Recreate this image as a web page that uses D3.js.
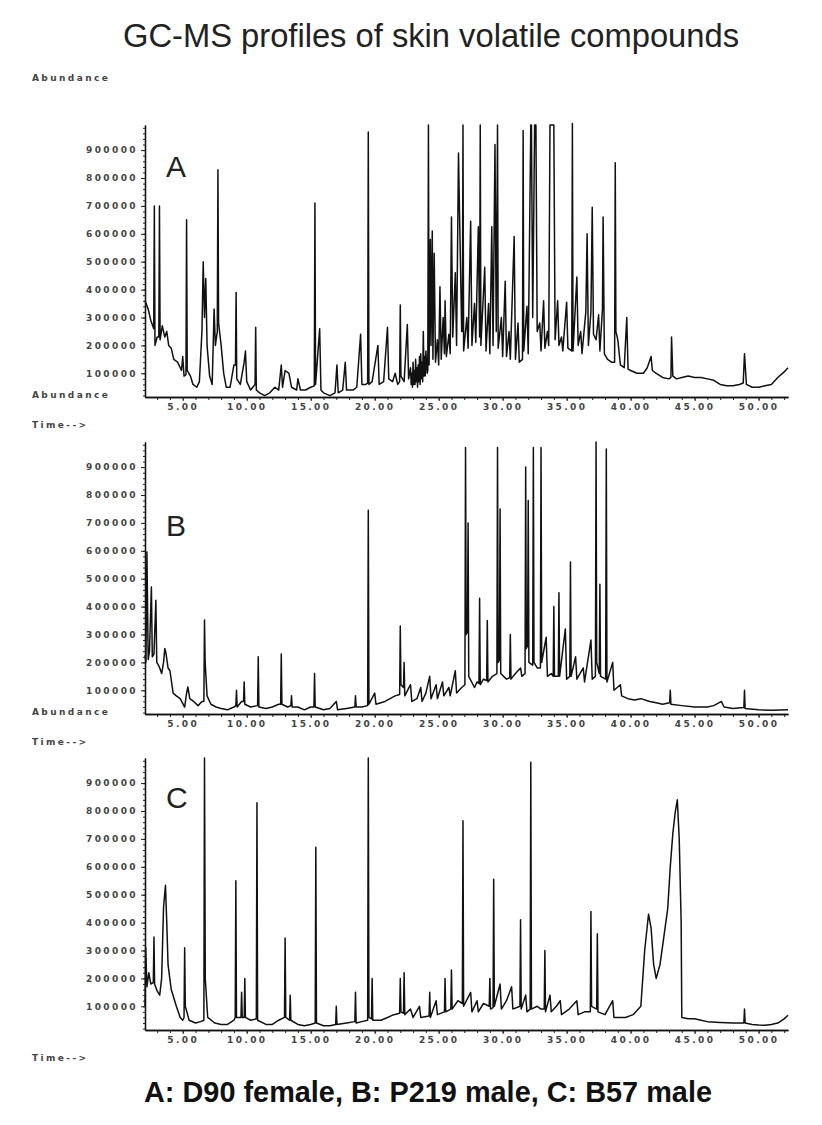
<!DOCTYPE html>
<html>
<head>
<meta charset="utf-8">
<style>
  body { margin: 0; background: #fff; }
  svg text { font-family: "Liberation Sans", Arial, sans-serif; fill: #222; }
  .small { font-family: "DejaVu Sans", sans-serif !important; font-size: 9px; font-weight: bold; letter-spacing: 2.4px; fill: #444; }
</style>
</head>
<body>
<svg id="chart" width="822" height="1125"></svg>
<script src="https://d3js.org/d3.v7.min.js"></script>
<script>

// chromatogram traces: [retention time (min), abundance / 1000]
const traceA = [
  [2.05,360],[2.3,330],[2.5,290],[2.73,260],[2.78,700],[2.83,200],[3.0,230],[3.13,230],[3.18,700],[3.23,220],
  [3.4,270],[3.6,230],[3.75,250],[3.9,200],[4.1,190],[4.3,150],[4.6,140],[4.9,110],[5.0,160],[5.1,90],
  [5.25,95],[5.3,650],[5.35,110],[5.6,90],[5.8,60],[6.1,50],[6.3,70],[6.5,250],[6.6,500],[6.7,300],[6.8,440],
  [6.9,200],[7.1,90],[7.3,60],[7.45,330],[7.55,200],[7.7,250],[7.75,830],[7.8,280],[8.0,200],[8.2,100],
  [8.4,50],[8.7,50],[9.0,130],[9.12,130],[9.17,390],[9.22,80],[9.5,60],[9.8,140],[9.9,180],[10.0,70],[10.3,40],
  [10.65,60],[10.7,265],[10.75,40],[11.0,30],[11.4,20],[11.8,30],[12.2,50],[12.5,40],[12.7,130],[12.8,50],
  [13.0,110],[13.3,100],[13.5,50],[13.9,40],[14.0,80],[14.2,40],[14.6,40],[15.0,50],[15.28,55],[15.33,710],
  [15.38,60],[15.7,260],[15.8,40],[16.0,30],[16.5,20],[16.9,30],[17.05,130],[17.15,30],[17.5,40],
  [17.7,140],[17.8,40],[18.3,40],[18.6,50],[18.9,240],[19.0,60],[19.3,60],[19.45,65],[19.5,965],[19.55,60],
  [19.8,70],[20.25,200],[20.35,60],[20.7,70],[21.0,265],[21.1,80],[21.4,70],[21.6,100],[21.8,60],
  [21.95,70],[22.0,345],[22.05,90],[22.3,70],[22.55,275],[22.65,80],[22.8,120],[22.85,60],[22.9,100],[22.95,50],
  [23.0,140],[23.05,60],[23.1,110],[23.15,60],[23.2,150],[23.25,70],[23.3,120],[23.35,50],[23.4,130],
  [23.45,70],[23.5,160],[23.55,60],[23.6,170],[23.65,80],[23.7,140],[23.75,70],[23.8,250],[23.85,90],
  [23.9,160],[23.95,90],[24.0,180],[24.1,100],[24.15,110],
  [24.2,990],[24.25,130],[24.35,580],[24.4,200],[24.5,610],[24.55,150],[24.65,530],[24.75,140],
  [24.9,220],[25.0,130],[25.1,410],[25.2,150],[25.35,300],[25.45,170],[25.5,360],[25.6,160],
  [25.8,240],[25.9,170],[26.0,660],[26.1,230],[26.3,460],[26.4,200],[26.55,890],[26.6,750],
  [26.7,500],[26.8,250],[26.85,250],[26.9,990],[26.95,180],[27.2,300],[27.3,190],[27.5,645],[27.6,200],
  [27.8,350],[27.9,210],[28.1,625],[28.2,230],[28.25,990],[28.3,200],[28.6,480],[28.7,180],
  [28.9,350],[29.0,170],[29.15,625],[29.25,200],[29.4,920],[29.5,250],[29.6,990],[29.65,190],
  [29.9,300],[30.0,160],[30.2,430],[30.3,160],[30.5,250],[30.6,150],[30.9,590],[31.0,150],
  [31.2,280],[31.3,140],[31.55,150],[31.6,970],[31.65,180],[31.9,340],[32.0,170],[32.2,990],[32.25,990],
  [32.35,300],[32.5,990],[32.6,990],[32.7,250],[32.9,280],[33.0,180],[33.2,360],[33.3,190],
  [33.5,250],[33.6,200],[33.7,990],[33.8,990],[33.9,990],[34.0,990],[34.1,220],[34.3,360],
  [34.4,200],[34.6,230],[34.7,180],[35.0,355],[35.1,190],[35.4,180],[35.45,995],[35.5,180],[35.8,445],
  [35.9,200],[36.1,250],[36.2,170],[36.5,320],[36.6,600],[36.7,200],[36.9,320],[37.0,695],
  [37.1,240],[37.3,220],[37.5,310],[37.6,180],[37.8,330],[37.85,660],[37.95,170],[38.2,150],
  [38.5,140],[38.75,140],[38.8,855],[38.85,250],[39.0,220],[39.2,130],[39.5,120],[39.7,300],[39.8,115],
  [40.0,110],[40.5,100],[41.0,100],[41.3,120],[41.6,160],[41.7,110],[42.0,100],[42.5,85],
  [43.0,80],[43.15,85],[43.2,230],[43.3,90],[43.6,80],[44.0,85],[44.5,90],[45.0,85],[45.5,85],[46.0,80],
  [46.5,75],[47.0,60],[47.5,55],[48.0,55],[48.5,60],[48.8,65],[48.9,170],[49.05,60],[49.5,50],[50.0,50],
  [50.5,55],[51.0,60],[51.5,85],[52.0,105],[52.3,120]
]

const traceB = [
  [2.05,226],[2.12,200],[2.2,596],[2.3,210],[2.4,240],[2.55,470],[2.62,220],[2.75,230],[2.9,423],
  [2.97,200],[3.1,190],[3.2,180],[3.35,160],[3.5,200],[3.6,250],[3.7,230],[3.85,180],[4.0,170],
  [4.25,90],[4.5,80],[4.8,70],[5.15,40],[5.3,90],[5.4,112],[5.55,70],[5.85,60],[6.2,45],[6.5,60],
  [6.65,60],[6.7,352],[6.75,200],[6.9,80],[7.2,50],[7.6,40],[8.0,35],[8.5,30],[9.0,40],[9.15,45],[9.2,100],[9.25,40],
  [9.6,60],[9.75,60],[9.8,130],[9.85,50],[10.3,40],[10.85,45],[10.9,220],[10.95,40],[11.5,35],[12.0,40],[12.5,50],
  [12.65,50],[12.7,230],[12.75,50],[13.2,40],[13.45,45],[13.5,80],[13.55,40],[14.0,40],[14.5,30],[15.0,40],[15.25,40],[15.3,160],
  [15.35,40],[16.0,30],[16.5,35],[17.0,60],[17.1,30],[17.8,35],[18.45,40],[18.5,80],[18.55,40],[19.0,40],
  [19.45,45],[19.5,745],[19.55,50],[20.0,90],[20.1,50],[20.8,60],[21.2,70],[21.6,80],[21.95,85],[22.0,330],[22.05,120],
  [22.25,110],[22.3,200],[22.35,80],[22.8,120],[22.9,60],[23.3,70],[23.6,110],[23.7,60],[24.0,90],[24.3,150],
  [24.4,70],[24.8,120],[24.9,70],[25.3,130],[25.4,80],[25.8,110],[25.9,80],[26.3,170],[26.4,90],
  [26.8,110],[27.05,120],[27.1,970],[27.15,300],[27.25,310],[27.3,700],[27.35,150],[27.8,110],[28.0,130],[28.15,125],[28.2,430],
  [28.25,120],[28.5,140],[28.75,135],[28.8,350],[28.85,130],[29.2,150],[29.55,160],[29.6,970],[29.65,200],[29.75,210],[29.8,750],
  [29.85,160],[30.3,140],[30.55,145],[30.6,300],[30.65,140],[31.0,160],[31.4,180],[31.5,150],[31.75,160],[31.8,900],
  [31.85,250],[31.95,260],[32.0,780],[32.05,200],[32.35,190],[32.4,970],[32.45,200],[32.7,180],[32.95,180],[33.0,970],[33.05,200],
  [33.4,290],[33.5,150],[33.8,160],[33.95,150],[34.0,400],[34.05,150],[34.35,150],[34.4,450],[34.45,150],[34.9,320],
  [35.0,140],[35.25,150],[35.3,560],[35.35,150],[35.7,220],[35.8,140],[36.3,180],[36.4,130],[36.9,280],
  [37.0,140],[37.25,150],[37.3,990],[37.35,200],[37.55,160],[37.6,480],[37.65,150],[38.05,140],[38.1,965],[38.15,130],[38.6,200],
  [38.7,100],[39.2,120],[39.3,80],[39.8,70],[40.3,65],[40.8,70],[41.5,60],[42.0,55],[42.5,50],
  [43.05,55],[43.1,100],[43.15,50],[44.0,45],[45.0,40],[46.0,40],[46.5,45],[47.1,60],[47.3,40],[48.0,35],
  [48.85,38],[48.9,100],[48.95,35],[50.0,30],[51.0,28],[52.3,30]
]

const traceC = [
  [2.05,100],[2.1,312],[2.2,170],[2.35,220],[2.5,180],[2.7,185],[2.75,348],[2.8,180],[3.0,155],[3.2,140],
  [3.35,200],[3.5,456],[3.65,534],[3.75,400],[3.85,250],[4.1,160],[4.5,100],[4.8,60],[5.0,50],
  [5.1,60],[5.15,310],[5.2,100],[5.5,50],[6.0,40],[6.4,45],[6.65,50],[6.7,990],[6.76,200],[6.95,60],[7.5,40],[8.0,35],
  [8.5,35],[9.0,50],[9.1,60],[9.15,550],[9.2,60],[9.55,60],[9.6,150],[9.65,60],[9.8,60],[9.85,200],[9.9,60],[10.3,50],
  [10.75,55],[10.8,830],[10.85,50],[11.5,35],[12.0,35],[12.5,50],[12.95,60],[13.0,345],[13.05,60],[13.35,50],[13.4,140],[13.45,50],
  [14.0,35],[14.5,30],[15.0,35],[15.35,40],[15.4,670],[15.45,40],[16.0,30],[16.5,30],[16.95,35],[17.0,100],[17.05,35],
  [17.8,40],[18.45,45],[18.5,150],[18.55,40],[19.0,45],[19.45,50],[19.5,990],[19.55,60],[19.75,55],[19.8,200],[19.85,50],[20.5,50],
  [21.0,60],[21.5,70],[21.95,75],[22.0,200],[22.05,80],[22.25,75],[22.3,220],[22.35,70],[22.8,90],[23.0,60],[23.5,100],
  [23.6,60],[24.25,65],[24.3,150],[24.35,60],[24.8,120],[24.9,70],[25.45,80],[25.5,200],[25.55,80],[25.95,90],[26.0,230],[26.05,90],
  [26.5,120],[26.85,110],[26.9,765],[26.95,100],[27.5,150],[27.6,80],[28.0,120],[28.1,80],[28.5,110],[28.95,100],[29.0,200],
  [29.05,90],[29.25,95],[29.3,555],[29.35,100],[29.8,180],[29.9,90],[30.3,120],[30.7,170],[30.8,90],[31.35,100],[31.4,410],
  [31.45,90],[31.8,140],[31.9,80],[32.15,90],[32.2,975],[32.25,90],[32.7,100],[33.0,90],[33.25,90],[33.3,300],[33.35,80],
  [33.7,140],[33.8,80],[34.2,100],[34.5,120],[34.6,70],[35.2,90],[35.8,120],[35.9,70],[36.4,80],
  [36.85,80],[36.9,440],[36.95,100],[37.35,90],[37.4,360],[37.45,80],[38.0,70],[38.6,120],[38.7,60],[39.2,60],[39.6,60],
  [40.2,70],[40.8,100],[41.1,300],[41.4,430],[41.6,380],[41.8,250],[42.0,200],[42.3,250],
  [42.6,350],[42.9,450],[43.1,600],[43.3,720],[43.5,800],[43.65,840],[43.8,700],[43.95,400],
  [44.0,60],[44.5,55],[45.0,55],[45.5,50],[46.0,45],[47.0,42],[48.0,40],[48.85,40],[48.9,90],
  [48.95,40],[49.5,35],[50.0,33],[50.5,32],[51.0,35],[51.5,40],[52.0,55],[52.3,68]
]

const panelLetters = ['A', 'B', 'C']
const traces = [traceA, traceB, traceC]
const timeLabels = [5, 10, 15, 20, 25, 30, 35, 40, 45, 50]
const abundanceLabels = [100000, 200000, 300000, 400000, 500000, 600000, 700000, 800000, 900000]
const titleText = 'GC-MS profiles of skin volatile compounds'
const captionText = 'A: D90 female, B: P219 male, C: B57 male'

const svg = d3.select('#chart')

// panel frame
const bottoms = [397, 714, 1030], panelH = 272
const x = d3.scaleLinear().domain([2.05, 52.3]).range([145, 788])

svg.append('text')
  .attr('x', 431).attr('y', 47)
  .attr('text-anchor', 'middle')
  .attr('textLength', 616).attr('lengthAdjust', 'spacingAndGlyphs')
  .style('font-size', '33px')
  .text(titleText)

svg.append('text')
  .attr('x', 428).attr('y', 1102)
  .attr('text-anchor', 'middle')
  .attr('textLength', 568).attr('lengthAdjust', 'spacingAndGlyphs')
  .style('font-size', '29px').style('font-weight', 'bold')
  .style('fill', '#111')
  .text(captionText)

svg.append('text').attr('class', 'small').attr('x', 32).attr('y', 81).text('Abundance')

const letterY = [177, 536, 808]

traces.forEach((trace, i) => {
  const bottom = bottoms[i]
  const y = d3.scaleLinear().domain([15000, 990000]).range([bottom, bottom - panelH])
  const g = svg.append('g')

  // y axis: minor ticks then labelled ticks
  g.append('g')
    .attr('transform', 'translate(145,0)')
    .call(d3.axisLeft(y).tickValues(d3.range(20000, 990000, 20000)).tickSize(2).tickSizeOuter(0).tickFormat(''))
  const ya = g.append('g')
    .attr('transform', 'translate(145,0)')
    .call(d3.axisLeft(y).tickValues(abundanceLabels).tickSize(4).tickSizeOuter(0).tickPadding(3).tickFormat(d3.format('d')))
  ya.selectAll('text').attr('class', 'small').attr('font-family', null).attr('font-size', null)

  // x axis
  g.append('g')
    .attr('transform', 'translate(0,' + bottom + ')')
    .call(d3.axisBottom(x).tickValues(d3.range(3, 53)).tickSize(3).tickSizeOuter(0).tickFormat(''))
  const xa = g.append('g')
    .attr('transform', 'translate(0,' + bottom + ')')
    .call(d3.axisBottom(x).tickValues(timeLabels).tickSize(4).tickSizeOuter(0).tickPadding(3).tickFormat(d3.format('.2f')))
  xa.selectAll('text').attr('class', 'small').attr('font-family', null).attr('font-size', null)
  g.selectAll('.domain').attr('stroke', '#111').attr('stroke-width', 1.3)
  g.selectAll('.tick line').attr('stroke', '#222')

  let line = d3.line().x(d => x(d[0])).y(d => y(d[1] * 1000))
  g.append('path')
    .datum(trace)
    .attr('fill', 'none')
    .attr('stroke', '#111')
    .attr('stroke-width', 1.5)
    .attr('stroke-linejoin', 'round')
    .attr('d', line)

  g.append('text')
    .attr('x', 166).attr('y', letterY[i])
    .style('font-size', '30px')
    .text(panelLetters[i])

  if (i < 2) {
    svg.append('text').attr('class', 'small').attr('x', 32).attr('y', bottom + 1).text('Abundance')
  }
  svg.append('text').attr('class', 'small').attr('x', 32).attr('y', bottom + 31).text('Time-->')
})

</script>
</body>
</html>
